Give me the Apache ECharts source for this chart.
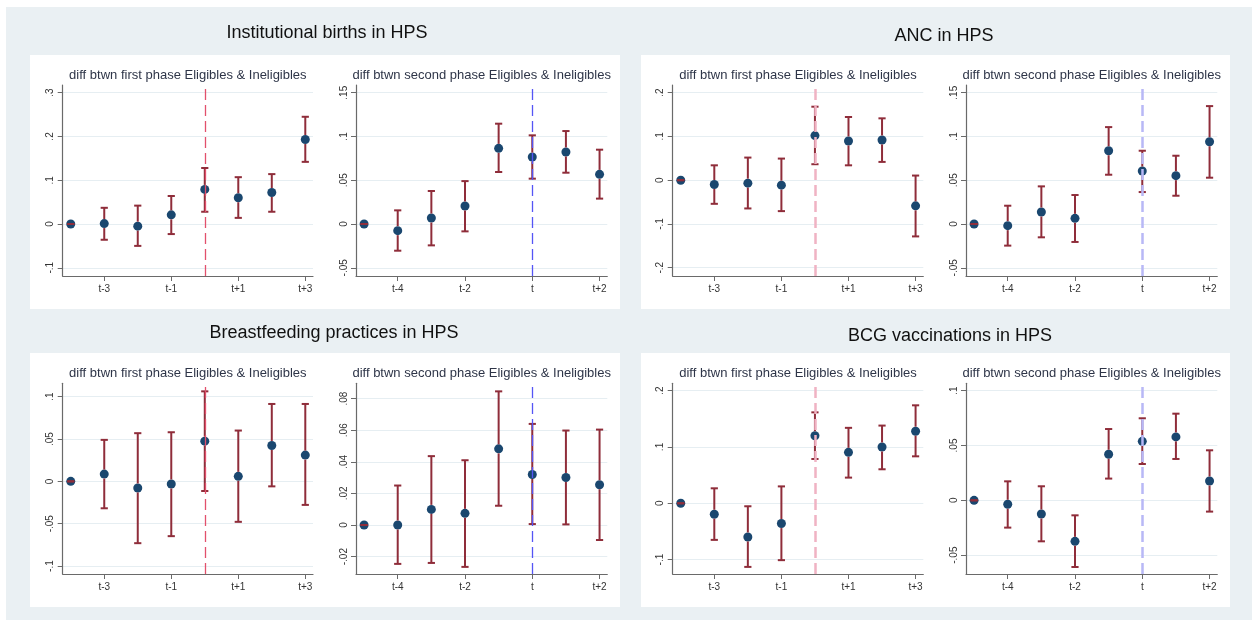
<!DOCTYPE html>
<html>
<head>
<meta charset="utf-8">
<script src="https://cdn.jsdelivr.net/npm/echarts@6/dist/echarts.min.js"></script>
<style>
html,body{margin:0;padding:0;background:#fff;}
#chart{width:1252px;height:626px;}
</style>
</head>
<body>
<div id="chart"></div>
<script>
// ---------- DATA ----------
const positions = [1, 2, 3, 4, 5, 6, 7, 8];
const firstLabels = ['t-4', 't-3', 't-2', 't-1', 't', 't+1', 't+2', 't+3'];
const secondLabels = ['t-5', 't-4', 't-3', 't-2', 't-1', 't', 't+1', 't+2'];
const labelPositions = [2, 4, 6, 8];

const panelTitles = ['Institutional births in HPS', 'ANC in HPS', 'Breastfeeding practices in HPS', 'BCG vaccinations in HPS'];
const firstSubtitle = 'diff btwn first phase Eligibles & Ineligibles';
const secondSubtitle = 'diff btwn second phase Eligibles & Ineligibles';

const instFirstEst = [0, 0.001, -0.005, 0.021, 0.079, 0.060, 0.072, 0.193];
const instFirstLo  = [0, -0.036, -0.050, -0.023, 0.028, 0.014, 0.028, 0.142];
const instFirstHi  = [0, 0.037, 0.042, 0.064, 0.128, 0.107, 0.114, 0.245];

const instSecondEst = [0, -0.0076, 0.0068, 0.0206, 0.0864, 0.0765, 0.0823, 0.0567];
const instSecondLo  = [0, -0.0305, -0.0244, -0.0084, 0.0594, 0.0518, 0.0586, 0.029];
const instSecondHi  = [0, 0.0156, 0.0377, 0.049, 0.1146, 0.1013, 0.1062, 0.0849];

const ancFirstEst = [0, -0.0099, -0.0068, -0.0114, 0.1019, 0.0897, 0.092, -0.0586];
const ancFirstLo  = [0, -0.054, -0.0646, -0.0707, 0.0365, 0.034, 0.0418, -0.1285];
const ancFirstHi  = [0, 0.034, 0.0517, 0.0494, 0.168, 0.1445, 0.1414, 0.0106];

const ancSecondEst = [0, -0.0019, 0.0137, 0.0065, 0.0837, 0.0605, 0.0552, 0.094];
const ancSecondLo  = [0, -0.0247, -0.0152, -0.0205, 0.0563, 0.0365, 0.0323, 0.0529];
const ancSecondHi  = [0, 0.0209, 0.043, 0.0331, 0.1107, 0.0837, 0.078, 0.1347];

const bfFirstEst = [0, 0.0086, -0.0078, -0.0031, 0.0475, 0.0059, 0.0424, 0.031];
const bfFirstLo  = [0, -0.0318, -0.073, -0.0647, -0.0114, -0.0478, -0.0059, -0.0278];
const bfFirstHi  = [0, 0.049, 0.0569, 0.058, 0.1063, 0.06, 0.0914, 0.0914];

const bfSecondEst = [0, 0.0, 0.0099, 0.0074, 0.0482, 0.032, 0.0301, 0.0255];
const bfSecondLo  = [0, -0.0246, -0.024, -0.0265, 0.0122, 0.0006, 0.0004, -0.0095];
const bfSecondHi  = [0, 0.025, 0.0436, 0.041, 0.0846, 0.064, 0.0598, 0.0604];

const bcgFirstEst = [0, -0.0195, -0.0598, -0.036, 0.120, 0.0905, 0.100, 0.128];
const bcgFirstLo  = [0, -0.065, -0.113, -0.101, 0.0787, 0.0456, 0.0604, 0.0834];
const bcgFirstHi  = [0, 0.0266, -0.0053, 0.030, 0.1615, 0.134, 0.138, 0.174];

const bcgSecondEst = [0, -0.0036, -0.0125, -0.0374, 0.042, 0.0538, 0.0578, 0.0176];
const bcgSecondLo  = [0, -0.0249, -0.0374, -0.0608, 0.0198, 0.0331, 0.0377, -0.0103];
const bcgSecondHi  = [0, 0.0173, 0.0128, -0.0137, 0.065, 0.0748, 0.079, 0.0456];

const instFirstTicks = [-0.1, 0, 0.1, 0.2, 0.3];
const instSecondTicks = [-0.05, 0, 0.05, 0.1, 0.15];
const ancFirstTicks = [-0.2, -0.1, 0, 0.1, 0.2];
const ancSecondTicks = [-0.05, 0, 0.05, 0.1, 0.15];
const bfFirstTicks = [-0.1, -0.05, 0, 0.05, 0.1];
const bfSecondTicks = [-0.02, 0, 0.02, 0.04, 0.06, 0.08];
const bcgFirstTicks = [-0.1, 0, 0.1, 0.2];
const bcgSecondTicks = [-0.05, 0, 0.05, 0.1];

// ---------- STYLE / LAYOUT ----------
const C_BAR = '#8f2d3a';
const C_DOT = '#1a476f';
const FONT = 'Liberation Sans, Arial, sans-serif';

const subplots = [
  {est: instFirstEst, lo: instFirstLo, hi: instFirstHi, ticks: instFirstTicks, ymin: -0.1188, ymax: 0.3176, labels: firstLabels, vline: 5, left: 62.7, top: 85, width: 250.3, height: 191, lineColor: '#e2506c', lineWidth: 1.3, sub: firstSubtitle},
  {est: instSecondEst, lo: instSecondLo, hi: instSecondHi, ticks: instSecondTicks, ymin: -0.0594, ymax: 0.1588, labels: secondLabels, vline: 6, left: 356, top: 85, width: 251.3, height: 191, lineColor: '#5555f5', lineWidth: 1.3, sub: secondSubtitle},
  {est: ancFirstEst, lo: ancFirstLo, hi: ancFirstHi, ticks: ancFirstTicks, ymin: -0.219, ymax: 0.2176, labels: firstLabels, vline: 5, left: 672.7, top: 85, width: 250.6, height: 191, lineColor: '#f0b3c3', lineWidth: 2.5, sub: firstSubtitle},
  {est: ancSecondEst, lo: ancSecondLo, hi: ancSecondHi, ticks: ancSecondTicks, ymin: -0.0594, ymax: 0.1588, labels: secondLabels, vline: 6, left: 966, top: 85, width: 251.3, height: 191, lineColor: '#b8b8f6', lineWidth: 2.5, sub: secondSubtitle},
  {est: bfFirstEst, lo: bfFirstLo, hi: bfFirstHi, ticks: bfFirstTicks, ymin: -0.1094, ymax: 0.1158, labels: firstLabels, vline: 5, left: 62.7, top: 383.3, width: 250.3, height: 190.7, lineColor: '#e2506c', lineWidth: 1.3, sub: firstSubtitle},
  {est: bfSecondEst, lo: bfSecondLo, hi: bfSecondHi, ticks: bfSecondTicks, ymin: -0.031, ymax: 0.0897, labels: secondLabels, vline: 6, left: 356, top: 383.3, width: 251.3, height: 190.7, lineColor: '#5555f5', lineWidth: 1.3, sub: secondSubtitle},
  {est: bcgFirstEst, lo: bcgFirstLo, hi: bcgFirstHi, ticks: bcgFirstTicks, ymin: -0.1256, ymax: 0.2131, labels: firstLabels, vline: 5, left: 672.7, top: 383.3, width: 250.6, height: 190.7, lineColor: '#f0b3c3', lineWidth: 2.5, sub: firstSubtitle},
  {est: bcgSecondEst, lo: bcgSecondLo, hi: bcgSecondHi, ticks: bcgSecondTicks, ymin: -0.0672, ymax: 0.1067, labels: secondLabels, vline: 6, left: 966, top: 383.3, width: 251.3, height: 190.7, lineColor: '#b8b8f6', lineWidth: 2.5, sub: secondSubtitle}
];

function fmtY(v) {
  let s = String(Number(v.toFixed(4)));
  return s.replace(/^0\./, '.').replace(/^-0\./, '-.');
}

const grid = [], xAxis = [], yAxis = [], series = [];
const graphic = [
  {type: 'rect', shape: {x: 6, y: 7, width: 1246, height: 613}, style: {fill: '#eaf0f3'}, z: -10},
  {type: 'rect', shape: {x: 30, y: 55, width: 590, height: 254}, style: {fill: '#ffffff'}, z: -9},
  {type: 'rect', shape: {x: 641, y: 55, width: 589, height: 254}, style: {fill: '#ffffff'}, z: -9},
  {type: 'rect', shape: {x: 30, y: 353, width: 590, height: 254}, style: {fill: '#ffffff'}, z: -9},
  {type: 'rect', shape: {x: 641, y: 353, width: 589, height: 254}, style: {fill: '#ffffff'}, z: -9},
  {type: 'text', x: 327, y: 33, style: {text: panelTitles[0], font: '18px ' + FONT, fill: '#111', textAlign: 'center', textVerticalAlign: 'middle'}},
  {type: 'text', x: 944, y: 36, style: {text: panelTitles[1], font: '18px ' + FONT, fill: '#111', textAlign: 'center', textVerticalAlign: 'middle'}},
  {type: 'text', x: 334, y: 333, style: {text: panelTitles[2], font: '18px ' + FONT, fill: '#111', textAlign: 'center', textVerticalAlign: 'middle'}},
  {type: 'text', x: 950, y: 336, style: {text: panelTitles[3], font: '18px ' + FONT, fill: '#111', textAlign: 'center', textVerticalAlign: 'middle'}}
];

subplots.forEach((sp, i) => {
  grid.push({left: sp.left, top: sp.top, width: sp.width, height: sp.height, show: false});
  graphic.push({type: 'text', x: sp.left + sp.width / 2, y: sp.top - 10,
    style: {text: sp.sub, font: '13px ' + FONT, fill: '#2e3548', textAlign: 'center', textVerticalAlign: 'middle'}});
  const labels = sp.labels;
  xAxis.push({
    type: 'value', gridIndex: i, min: 0.76, max: 8.23,
    axisLine: {show: true, onZero: false, lineStyle: {color: '#6a6a6a', width: 1.2}},
    axisTick: {show: true, length: 5, inside: false, customValues: labelPositions, lineStyle: {color: '#6a6a6a'}},
    axisLabel: {show: true, customValues: labelPositions, margin: 8, fontSize: 10, fontFamily: FONT, color: '#333',
      formatter: v => labels[Math.round(v) - 1]},
    splitLine: {show: false}
  });
  yAxis.push({
    type: 'value', gridIndex: i, min: sp.ymin, max: sp.ymax,
    axisLine: {show: true, onZero: false, lineStyle: {color: '#6a6a6a', width: 1.2}},
    axisTick: {show: true, length: 5, inside: false, customValues: sp.ticks, lineStyle: {color: '#6a6a6a'}},
    axisLabel: {show: true, customValues: sp.ticks, rotate: 90, margin: 7, fontSize: 10, fontFamily: FONT, color: '#333',
      formatter: fmtY},
    splitLine: {show: true, lineStyle: {color: '#e6eef2', width: 1}}
  });
  series.push({
    type: 'scatter', xAxisIndex: i, yAxisIndex: i, z: 3,
    data: positions.map((p, k) => [p, sp.est[k]]),
    symbol: 'circle', symbolSize: 9,
    itemStyle: {color: C_DOT, opacity: 1},
    silent: true,
    markLine: {
      silent: true, symbol: ['none', 'none'], label: {show: false},
      lineStyle: {color: sp.lineColor, width: sp.lineWidth, type: [11, 5], opacity: 1},
      emphasis: {disabled: true},
      data: [{xAxis: sp.vline}],
      animation: false
    }
  });
  series.push({
    type: 'custom', xAxisIndex: i, yAxisIndex: i, z: 4,
    data: positions.map((p, k) => [p, sp.lo[k], sp.hi[k], sp.est[k]]),
    encode: {x: 0, y: [1, 2]},
    renderItem: function (params, api) {
      const x = api.value(0), lo = api.value(1), hi = api.value(2);
      const a = api.coord([x, lo]), b = api.coord([x, hi]);
      const w = 3.6;
      const st = {stroke: C_BAR, lineWidth: 2};
      const kids = [
        {type: 'line', shape: {x1: a[0] - w, y1: a[1], x2: a[0] + w, y2: a[1]}, style: st},
        {type: 'line', shape: {x1: b[0] - w, y1: b[1], x2: b[0] + w, y2: b[1]}, style: st}
      ];
      // vertical stem drawn outside the marker so the dot stays visible
      const mid = api.coord([x, api.value(3)]);
      const r = 4.5;
      if (b[1] < mid[1] - r) kids.push({type: 'line', shape: {x1: b[0], y1: b[1], x2: b[0], y2: mid[1] - r}, style: st});
      if (a[1] > mid[1] + r) kids.push({type: 'line', shape: {x1: a[0], y1: mid[1] + r, x2: a[0], y2: a[1]}, style: st});
      return {type: 'group', children: kids};
    },
    silent: true
  });
});

const chart = echarts.init(document.getElementById('chart'), null, {renderer: 'canvas'});
chart.setOption({
  backgroundColor: '#ffffff',
  animation: false,
  grid, xAxis, yAxis, series, graphic
});
</script>
</body>
</html>
